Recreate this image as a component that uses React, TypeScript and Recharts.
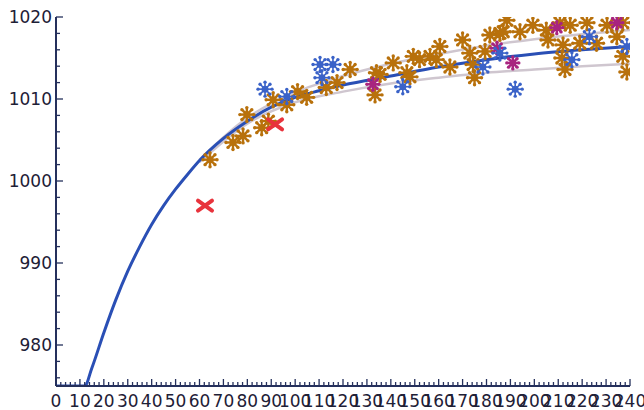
import { ComposedChart, Line, Scatter, XAxis, YAxis } from 'recharts'

const FRAME = '#25305c'
const LABEL = '#1e2036'
const FONT = '"DejaVu Sans", sans-serif'

const xTickLabels = [0, 10, 20, 30, 40, 50, 60, 70, 80, 90, 100, 110, 120, 130, 140, 150, 160, 170, 180, 190, 200, 210, 220, 230, 240]
const yTickLabels = [980, 990, 1000, 1010, 1020]
const xMinorStep = 2
const yMinorStep = 2

// fitted curve
const fitX = [0, 12, 15, 20, 25, 30, 35, 40, 45, 50, 55, 60, 70, 80, 90, 100, 110, 120, 140, 160, 180, 200, 220, 240]
const fitY = [975, 975, 977.2, 981.5, 985.5, 989.0, 992.0, 994.7, 997.0, 999.0, 1000.8, 1002.5, 1005.2, 1007.3, 1009.0, 1010.2, 1011.0, 1011.7, 1012.8, 1013.9, 1014.8, 1015.5, 1016.0, 1016.4]

// band lines (light grey)
const bandX = [60, 80, 100, 120, 140, 160, 180, 200, 220, 240]
const upperY = [1002.6, 1007.7, 1010.8, 1012.8, 1014.3, 1015.5, 1016.5, 1017.3, 1017.9, 1018.4]
const lowerY = [1002.3, 1007.0, 1009.6, 1010.9, 1011.9, 1012.6, 1013.2, 1013.6, 1014.0, 1014.3]

const orangeX = [64.4, 74, 78.2, 79.8, 86, 88.8, 90.8, 96.5, 101, 104.8, 113, 117.5, 123, 133.4, 134, 135.5, 141, 146.7, 148, 149.4, 152, 156.4, 159, 160.5, 164.7, 170, 173, 174.4, 175, 179.4, 181.4, 185.6, 187, 188.5, 194, 199.4, 205, 205.7, 210.7, 211.5, 212, 212.8, 215, 219, 222, 226, 230.4, 234.5, 237, 237, 238.7]
const orangeY = [1002.6, 1004.7, 1005.5, 1008.1, 1006.5, 1007.3, 1009.9, 1009.3, 1010.9, 1010.2, 1011.4, 1012, 1013.6, 1010.5, 1013.2, 1013, 1014.4, 1013.2, 1012.7, 1015.2, 1014.8, 1015.2, 1014.8, 1016.4, 1013.9, 1017.2, 1015.6, 1014.2, 1012.6, 1015.8, 1017.8, 1018, 1018.2, 1019.6, 1018.2, 1019, 1018.4, 1017.2, 1019.3, 1015, 1016.6, 1013.6, 1019, 1016.8, 1019.3, 1016.8, 1019, 1017.6, 1019.3, 1015.2, 1013.3]

const blueX = [87.4, 96.5, 110.4, 111.2, 115.8, 145, 178.5, 185.6, 192, 215.7, 223, 238.7]
const blueY = [1011.2, 1010.3, 1014.2, 1012.6, 1014.2, 1011.5, 1013.9, 1015.6, 1011.2, 1014.8, 1017.6, 1016.4]

const magentaX = [132.5, 184.4, 191, 209.4, 234.5]
const magentaY = [1011.8, 1016.2, 1014.4, 1018.7, 1019.3]

const redX = [62.3, 91.6]
const redY = [997.0, 1006.9]

const zip = (xs: number[], ys: number[]) => xs.map((x, i) => ({ x, y: ys[i] }))

const xTicks = Array.from({ length: 240 / xMinorStep + 1 }, (_, i) => i * xMinorStep)
const yTicks = Array.from({ length: 45 / yMinorStep + 1 }, (_, i) => 976 + i * yMinorStep).filter((v) => v <= 1020)

function BottomTick(props: any) {
  const { x, y, payload } = props
  const major = xTickLabels.includes(payload.value)
  return (
    <g>
      <line x1={x} y1={y} x2={x} y2={y - (major ? 7 : 4)} stroke={FRAME} strokeWidth={1.3} />
      {major && (
        <text x={x} y={y + 21} textAnchor="middle" fontFamily={FONT} fontSize={17} fill={LABEL}>
          {payload.value}
        </text>
      )}
    </g>
  )
}

function TopTick(props: any) {
  const { x, y, payload } = props
  const major = xTickLabels.includes(payload.value)
  return <line x1={x} y1={y} x2={x} y2={y + (major ? 7 : 4)} stroke={FRAME} strokeWidth={1.3} />
}

function LeftTick(props: any) {
  const { x, y, payload } = props
  const major = yTickLabels.includes(payload.value)
  return (
    <g>
      <line x1={x} y1={y} x2={x + (major ? 7 : 4)} y2={y} stroke={FRAME} strokeWidth={1.3} />
      {major && (
        <text x={x - 4} y={y + 6} textAnchor="end" fontFamily={FONT} fontSize={17} fill={LABEL}>
          {payload.value}
        </text>
      )}
    </g>
  )
}

function RightTick(props: any) {
  const { x, y, payload } = props
  const major = yTickLabels.includes(payload.value)
  return <line x1={x} y1={y} x2={x - (major ? 7 : 4)} y2={y} stroke={FRAME} strokeWidth={1.3} />
}

function Splat({ cx, cy, color, r = 7, w = 2.4 }: { cx: number; cy: number; color: string; r?: number; w?: number }) {
  const spokes = [0, 45, 90, 135, 180, 225, 270, 315]
  return (
    <g>
      {spokes.map((a) => {
        const t = (a * Math.PI) / 180
        const ex = cx + r * Math.cos(t)
        const ey = cy + r * Math.sin(t)
        return (
          <g key={a}>
            <line x1={cx} y1={cy} x2={ex} y2={ey} stroke={color} strokeWidth={w} />
            <circle cx={ex} cy={ey} r={1.7} fill={color} />
          </g>
        )
      })}
      <circle cx={cx} cy={cy} r={3.5} fill={color} />
    </g>
  )
}

function Cross({ cx, cy }: { cx: number; cy: number }) {
  return (
    <g stroke="#e8333c" strokeWidth={4} strokeLinecap="round">
      <line x1={cx - 7} y1={cy - 5} x2={cx + 7} y2={cy + 5} />
      <line x1={cx - 7} y1={cy + 5} x2={cx + 7} y2={cy - 5} />
    </g>
  )
}

export default function App() {
  return (
    <div style={{ position: 'absolute', left: 0, top: 0, background: '#fff' }}>
      <ComposedChart width={644} height={410} margin={{ top: 17, right: 14, bottom: 0, left: 0 }}>
        <XAxis
          xAxisId="b"
          type="number"
          dataKey="x"
          domain={[0, 240]}
          allowDataOverflow
          ticks={xTicks}
          interval={0}
          tickSize={0}
          tickMargin={0}
          tickLine={false}
          tick={<BottomTick />}
          height={24}
          axisLine={{ stroke: FRAME, strokeWidth: 2 }}
        />
        <XAxis
          xAxisId="t"
          orientation="top"
          type="number"
          dataKey="x"
          domain={[0, 240]}
          allowDataOverflow
          ticks={xTicks}
          interval={0}
          tickSize={0}
          tickMargin={0}
          tickLine={false}
          tick={<TopTick />}
          height={0}
          axisLine={{ stroke: FRAME, strokeWidth: 2 }}
        />
        <YAxis
          yAxisId="l"
          type="number"
          dataKey="y"
          domain={[975, 1020]}
          allowDataOverflow
          ticks={yTicks}
          interval={0}
          tickSize={0}
          tickMargin={0}
          tickLine={false}
          tick={<LeftTick />}
          width={56}
          axisLine={{ stroke: FRAME, strokeWidth: 2 }}
        />
        <YAxis
          yAxisId="r"
          orientation="right"
          type="number"
          dataKey="y"
          domain={[975, 1020]}
          allowDataOverflow
          ticks={yTicks}
          interval={0}
          tickSize={0}
          tickMargin={0}
          tickLine={false}
          tick={<RightTick />}
          width={0}
          axisLine={{ stroke: FRAME, strokeWidth: 2 }}
        />
        <Line xAxisId="b" yAxisId="l" data={zip(bandX, upperY)} dataKey="y" type="monotone" stroke="#cfc6cf" strokeWidth={2.5} dot={false} isAnimationActive={false} />
        <Line xAxisId="b" yAxisId="l" data={zip(bandX, lowerY)} dataKey="y" type="monotone" stroke="#cfc6cf" strokeWidth={2.5} dot={false} isAnimationActive={false} />
        <Scatter xAxisId="b" yAxisId="l" data={zip(orangeX, orangeY)} isAnimationActive={false} shape={(p: any) => <Splat cx={p.cx} cy={p.cy} color="#b8710c" />} />
        <Scatter xAxisId="b" yAxisId="l" data={zip(magentaX, magentaY)} isAnimationActive={false} shape={(p: any) => <Splat cx={p.cx} cy={p.cy} color="#a8247f" r={6} />} />
        <Scatter xAxisId="b" yAxisId="l" data={zip(blueX, blueY)} isAnimationActive={false} shape={(p: any) => <Splat cx={p.cx} cy={p.cy} color="#3a62c8" r={7} w={1.6} />} />
        <Scatter xAxisId="b" yAxisId="l" data={zip(redX, redY)} isAnimationActive={false} shape={(p: any) => <Cross cx={p.cx} cy={p.cy} />} />
        <Line xAxisId="b" yAxisId="l" data={zip(fitX, fitY)} dataKey="y" type="monotone" stroke="#2a4fb5" strokeWidth={3} dot={false} isAnimationActive={false} />
      </ComposedChart>
    </div>
  )
}
